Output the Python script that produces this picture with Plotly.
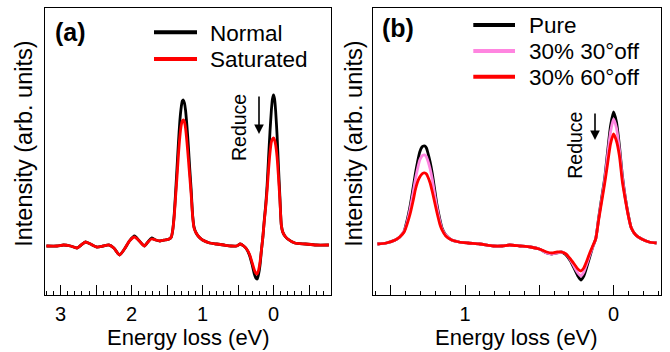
import plotly.graph_objects as go

FONT = "Liberation Sans, Arial, sans-serif"

# ---------------- Panel (a) data ----------------
E_A = [3.20, 3.05, 2.96, 2.86, 2.77, 2.71, 2.65, 2.58, 2.49, 2.40, 2.32, 2.25, 2.17, 2.10,
       2.03, 1.96, 1.89, 1.82, 1.77, 1.72, 1.66, 1.60, 1.53, 1.47, 1.44, 1.42, 1.40, 1.38,
       1.36, 1.34, 1.32, 1.30, 1.285, 1.27, 1.255, 1.24, 1.22, 1.20, 1.18, 1.16, 1.14, 1.12,
       1.09, 1.05, 1.00, 0.90, 0.80, 0.70, 0.60, 0.52, 0.47, 0.42, 0.38, 0.34, 0.30, 0.27,
       0.25, 0.23, 0.21, 0.19, 0.17, 0.15, 0.13, 0.11, 0.09, 0.07, 0.05, 0.03, 0.015, 0.0,
       -0.015, -0.03, -0.05, -0.07, -0.09, -0.11, -0.13, -0.16, -0.20, -0.30, -0.45, -0.60, -0.78]

NORMAL = [-1, -1, 0, -1, -3, 0, 3, 1, -2, -1, 0, -3, -10, -4,
          4, 9, 4, -1, 3, 7, 5, 4, 5, 6, 8, 15, 30, 52,
          77, 102, 124, 138, 144, 145, 142, 135, 119, 99, 76, 55, 30, 18,
          12, 8, 5, 2, 1, 0, -1, -1, 1, -1, -4, -10, -20, -29,
          -33, -34, -29, -20, -5, 8, 25, 40, 60, 87, 113, 135, 146, 150,
          146, 134, 110, 78, 48, 20, 13, 9, 6, 2, 1, 0, 0]

SATURATED = [-1, -1, 0, -1, -3, 0, 3, 1, -2, -1, 0, -3, -10, -4,
             4, 8, 4, -1, 3, 6, 5, 4, 5, 6, 8, 15, 28, 48,
             68, 90, 108, 120, 124, 125, 123, 117, 103, 86, 68, 50, 29, 17,
             12, 8, 5, 2, 1, 0, -1, -1, 1, -1, -4, -9, -18, -25,
             -28, -29, -25, -17, -5, 8, 24, 38, 55, 75, 92, 103, 106, 107,
             105, 100, 88, 68, 45, 20, 13, 9, 6, 2, 1, 0, 0]

# ---------------- Panel (b) data ----------------
E_B = [1.59, 1.53, 1.47, 1.44, 1.41, 1.39, 1.37, 1.35, 1.335, 1.32, 1.305, 1.29, 1.28, 1.27,
       1.26, 1.25, 1.235, 1.22, 1.205, 1.19, 1.17, 1.155, 1.13, 1.09, 1.04, 0.98, 0.90, 0.81,
       0.75, 0.70, 0.63, 0.56, 0.50, 0.45, 0.415, 0.38, 0.35, 0.32, 0.29, 0.26, 0.24, 0.22,
       0.20, 0.18, 0.16, 0.14, 0.12, 0.10, 0.08, 0.06, 0.04, 0.02, 0.0, -0.02, -0.04, -0.06,
       -0.08, -0.10, -0.12, -0.15, -0.19, -0.24, -0.29]

PURE = [0, 1, 4, 7, 13, 24, 38, 56, 70, 82, 92, 97, 98, 98,
        96, 91, 82, 70, 55, 40, 25, 16, 9, 4, 2, 1, 0, -2,
        -2, -1, -2, -3, -5, -9, -10, -9, -8, -11, -17, -26, -32, -36,
        -32, -23, -13, -3, 5, 26, 46, 65, 92, 118, 132, 122, 98, 68,
        46, 29, 16, 9, 5, 2, 1]

OFF30 = [0, 1, 4, 7, 13, 22, 35, 51, 64, 75, 84, 88, 89, 89,
         87, 83, 75, 64, 50, 37, 23, 15, 9, 4, 2, 1, 0, -2,
         -2, -1, -2, -3, -5, -9, -10, -9, -8, -10, -16, -24, -29, -32,
         -28, -20, -11, -3, 5, 25, 44, 63, 88, 112, 125, 116, 94, 66,
         45, 28, 16, 9, 5, 2, 1]

OFF60 = [0, 1, 4, 7, 12, 20, 30, 43, 54, 62, 67, 70, 71, 71,
         70, 67, 61, 52, 42, 32, 20, 14, 8, 4, 2, 1, 0, -2,
         -2, -1, -2, -3, -5, -8, -9, -8, -8, -10, -15, -21, -25, -27,
         -24, -17, -9, -2, 5, 24, 42, 60, 80, 100, 110, 103, 88, 62,
         44, 28, 16, 9, 5, 2, 1]

TICK_VALS_A = [3, 2.5, 2, 1.5, 1, 0.5, 0, -0.5]
TICK_TEXT_A = ["3", "", "2", "", "1", "", "0", ""]
TICK_VALS_B = [1.5, 1, 0.5, 0]
TICK_TEXT_B = ["", "1", "", "0"]

NAMES_A = ["Normal", "Saturated"]
NAMES_B = ["Pure", "30% 30°off", "30% 60°off"]

BLACK = "#000000"
PINK = "#ff85e0"
RED = "#ff0000"
COLORS_A = [BLACK, RED]
COLORS_B = [BLACK, PINK, RED]
LW = 2.8

W, H = 670, 352

fig = go.Figure()
for name, ys, col in zip(NAMES_A, [NORMAL, SATURATED], COLORS_A):
    fig.add_trace(go.Scatter(x=E_A, y=ys, name=name, mode="lines", showlegend=False,
                             line=dict(color=col, width=LW, shape="spline", smoothing=0.6),
                             xaxis="x", yaxis="y"))
for name, ys, col in zip(NAMES_B, [PURE, OFF30, OFF60], COLORS_B):
    fig.add_trace(go.Scatter(x=E_B, y=ys, name=name, mode="lines", showlegend=False,
                             line=dict(color=col, width=LW, shape="spline", smoothing=0.6),
                             xaxis="x2", yaxis="y2"))

YDOM = [1 - 295 / H, 1 - 8 / H]
XDOM_A = [45 / W, 331 / W]
XDOM_B = [372.7 / W, 661 / W]


def xaxis(domain, rng, tv, tt, anchor):
    return dict(domain=domain, range=rng, anchor=anchor, tickmode="array", tickvals=tv,
                ticktext=tt, ticks="inside", ticklen=10, tickwidth=1, tickcolor="black",
                showline=True, mirror=True, linecolor="black", linewidth=1,
                showgrid=False, zeroline=False, ticklabelstandoff=1,
                tickfont=dict(family=FONT, size=20, color="black"),
                minor=dict(ticks="inside", ticklen=4, tickwidth=1, tickcolor="black",
                           tickmode="linear", tick0=0, dtick=0.1, showgrid=False))


def yaxis(rng, anchor):
    return dict(domain=YDOM, range=rng, anchor=anchor, showticklabels=False, ticks="",
                showline=True, mirror=True, linecolor="black", linewidth=1,
                showgrid=False, zeroline=False)


fig.update_layout(
    width=W, height=H,
    margin=dict(l=0, r=0, t=0, b=0),
    paper_bgcolor="white", plot_bgcolor="white",
    font=dict(family=FONT, size=21, color="black"),
    xaxis=xaxis(XDOM_A, [3.22, -0.81], TICK_VALS_A, TICK_TEXT_A, "y"),
    yaxis=yaxis([-50, 237], "x"),
    xaxis2=xaxis(XDOM_B, [1.622, -0.32], TICK_VALS_B, TICK_TEXT_B, "y2"),
    yaxis2=yaxis([-51, 236], "x2"),
    showlegend=False,
)

ann = []
shapes = []


def txt(text, x, y, size, xanchor="center", yanchor="middle", angle=0, bold=False):
    ann.append(dict(text=f"<b>{text}</b>" if bold else text, x=x / W, y=1 - y / H,
                    xref="paper", yref="paper", xanchor=xanchor, yanchor=yanchor,
                    textangle=angle, showarrow=False,
                    font=dict(family=FONT, size=size, color="black")))


# panel labels
txt("(a)", 70, 31.7, 25, bold=True)
txt("(b)", 398.3, 27.5, 25, bold=True)
# axis titles
txt("Energy loss (eV)", (45 + 331) / 2, 337, 22)
txt("Energy loss (eV)", (372.7 + 661) / 2, 337, 22)
txt("Intensity (arb. units)", 23.3, 143.5, 23.5, angle=-90)
txt("Intensity (arb. units)", 353.3, 143.5, 23.5, angle=-90)
# Reduce labels
txt("Reduce", 239, 128, 19.5, angle=-90)
txt("Reduce", 575, 145.8, 19.5, angle=-90)

# arrows (head position in paper coords, tail offset in pixels)
ann.append(dict(text="", x=259 / W, y=1 - 134 / H, ax=0, ay=-39,
                xref="paper", yref="paper", axref="pixel", ayref="pixel",
                showarrow=True, arrowhead=2, arrowsize=1.2, arrowwidth=1.6, arrowcolor="black"))
ann.append(dict(text="", x=595 / W, y=1 - 140 / H, ax=0, ay=-28,
                xref="paper", yref="paper", axref="pixel", ayref="pixel",
                showarrow=True, arrowhead=2, arrowsize=1.2, arrowwidth=1.6, arrowcolor="black"))

# legends (drawn as line samples + text)
for i, (name, col) in enumerate(zip(NAMES_A, COLORS_A)):
    yy = [32.3, 59][i]
    shapes.append(dict(type="line", xref="paper", yref="paper", x0=154 / W, x1=197 / W,
                       y0=1 - yy / H, y1=1 - yy / H, line=dict(color=col, width=4)))
    txt(name, 208, yy + 1, 22.5, xanchor="left")
for i, (name, col) in enumerate(zip(NAMES_B, COLORS_B)):
    yy = [25, 51, 76.7][i]
    shapes.append(dict(type="line", xref="paper", yref="paper", x0=473.3 / W, x1=515 / W,
                       y0=1 - yy / H, y1=1 - yy / H, line=dict(color=col, width=4)))
    txt(name, 526.7, yy + 1, 22.5, xanchor="left")

fig.update_layout(annotations=ann, shapes=shapes)

fig.write_html("out.html", config={"displayModeBar": False},
               post_script="document.body.style.margin='0';")
